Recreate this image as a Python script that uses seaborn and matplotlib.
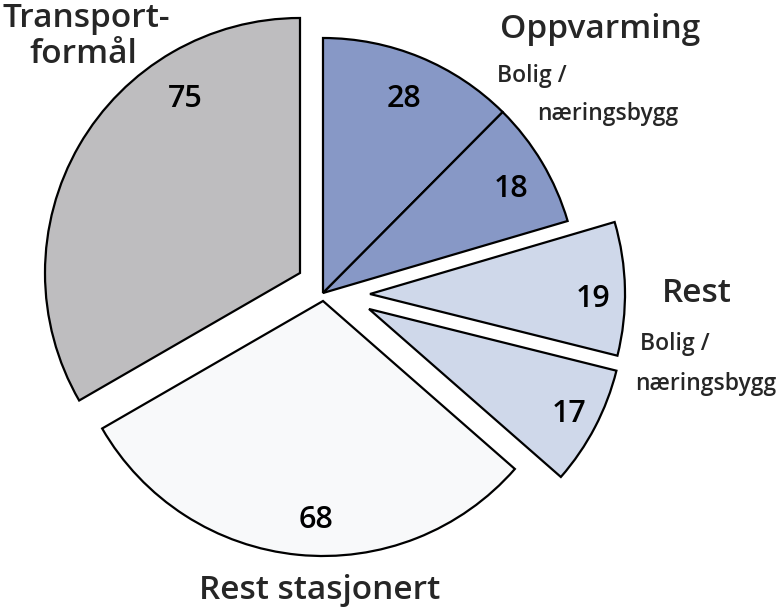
import matplotlib
matplotlib.use("Agg")
import matplotlib.pyplot as plt
import seaborn as sns

sns.set_theme(style="white")
plt.rcParams['font.family'] = ['Open Sans', 'DejaVu Sans']

# Data (order: clockwise from 12 o'clock)
values = [28, 18, 19, 17, 68, 75]
value_labels = ["28", "18", "19", "17", "68", "75"]
colors = ["#8798c6", "#8798c6", "#cfd8ea", "#cfd8ea", "#f8f9fa", "#bebdbf"]
group_labels = ["Oppvarming", "Rest", "Rest stasjonert", "Transport-\nformål"]
sub_label_1 = "Bolig /"
sub_label_2 = "næringsbygg"

W, H = 784, 608
fig = plt.figure(figsize=(W / 100, H / 100), dpi=100)
ax = fig.add_axes([0, 0, 1, 1])

def Y(y):
    return H - y

wedges, _ = ax.pie(values, startangle=90, counterclock=False, radius=255,
                   center=(321, Y(297)), colors=colors,
                   wedgeprops=dict(edgecolor="black", linewidth=1.6, joinstyle="miter"))

# exploded wedge apex positions (image pixel coordinates)
apex = [(323, 293), (323, 293), (370, 294), (369, 309), (323, 301), (300, 273)]
for w, (x, y) in zip(wedges, apex):
    w.set_center((x, Y(y)))

ax.set_xlim(0, W)
ax.set_ylim(0, H)
ax.set_aspect("equal")
ax.axis("off")

fw = "semibold"
num_pos = [(404, 107), (511, 197), (593, 307), (569, 422), (316, 528), (185, 107)]
for lab, (x, y) in zip(value_labels, num_pos):
    ax.text(x, Y(y), lab, ha="center", va="baseline", fontsize=22, color="black",
            fontweight=fw)

big = 24
small = 16.5
ax.text(600, Y(38), group_labels[0], ha="center", va="baseline", fontsize=big, fontweight=fw)
ax.text(497, Y(82), sub_label_1, ha="left", va="baseline", fontsize=small, fontweight=fw)
ax.text(537, Y(120), sub_label_2, ha="left", va="baseline", fontsize=small, fontweight=fw)

ax.text(697, Y(302), group_labels[1], ha="center", va="baseline", fontsize=big, fontweight=fw)
ax.text(640, Y(350), sub_label_1, ha="left", va="baseline", fontsize=small, fontweight=fw)
ax.text(635, Y(390), sub_label_2, ha="left", va="baseline", fontsize=small, fontweight=fw)

ax.text(320, Y(599), group_labels[2], ha="center", va="baseline", fontsize=big, fontweight=fw)

t1, t2 = group_labels[3].split("\n")
ax.text(86, Y(27), t1, ha="center", va="baseline", fontsize=big, fontweight=fw)
ax.text(83, Y(63), t2, ha="center", va="baseline", fontsize=big, fontweight=fw)

fig.savefig("out.png", dpi=100)
